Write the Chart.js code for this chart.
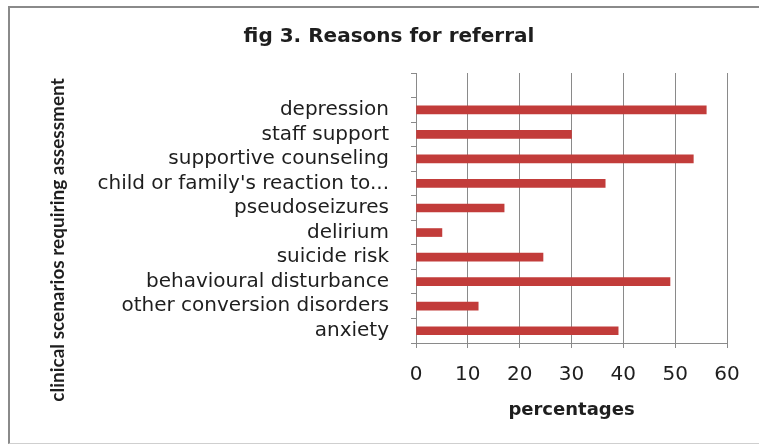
<!DOCTYPE html>
<html>
<head>
<meta charset="utf-8">
<script src="https://cdn.jsdelivr.net/npm/chart.js@4/dist/chart.umd.min.js"></script>
<style>
  html, body { margin: 0; padding: 0; background: #ffffff; overflow: hidden; }
  #wrap { position: relative; width: 759px; height: 446px; overflow: hidden; }
  #frame { position: absolute; left: 8px; top: 6px; width: 800px; height: 438px;
           border-left: 2px solid #8a8a8a; border-top: 2px solid #8a8a8a; border-bottom: 1px solid #cfcfcf;
           pointer-events: none; box-sizing: border-box; }
  canvas { display: block; }
</style>
</head>
<body>
<div id="wrap">
  <canvas id="c" width="759" height="446"></canvas>
  <div id="frame"></div>
</div>
<script>
const chartTitle = 'fig 3. Reasons for referral';
const xAxisTitle = 'percentages';
const yAxisTitle = 'clinical scenarios requiring assessment';
const categories = [
  'depression',
  'staff support',
  'supportive counseling',
  "child or family's reaction to...",
  'pseudoseizures',
  'delirium',
  'suicide risk',
  'behavioural disturbance',
  'other conversion disorders',
  'anxiety'
];
const percentages = [56, 30, 53.5, 36.5, 17, 5, 24.5, 49, 12, 39];
const xTickMin = 0, xTickMax = 60, xTickStep = 10;

const textColor = '#1e1e1e';
const lineColor = '#8a8a8a';

Chart.defaults.font.family = 'DejaVu Sans';

const yTitlePlugin = {
  id: 'yTitle',
  afterDraw(chart) {
    const ctx = chart.ctx;
    ctx.save();
    ctx.translate(58, 240);
    ctx.rotate(-Math.PI / 2);
    ctx.font = 'bold 19px Lato';
    ctx.fillStyle = textColor;
    ctx.textAlign = 'center';
    ctx.textBaseline = 'middle';
    ctx.fillText(yAxisTitle, 0, 0);
    ctx.restore();
  }
};

new Chart(document.getElementById('c'), {
  type: 'bar',
  data: {
    labels: [''].concat(categories),
    datasets: [{
      label: xAxisTitle,
      data: [null].concat(percentages),
      backgroundColor: '#C23C3A',
      borderWidth: 0,
      barThickness: 8
    }]
  },
  options: {
    indexAxis: 'y',
    responsive: false,
    animation: false,
    layout: { padding: { left: 51, right: 32, top: 0, bottom: 0 } },
    plugins: {
      legend: { display: false },
      tooltip: { enabled: false },
      title: {
        display: true,
        text: chartTitle,
        color: textColor,
        font: { family: 'DejaVu Sans', size: 20, weight: 'bold' },
        padding: { top: 25, bottom: 24 }
      }
    },
    scales: {
      x: {
        min: xTickMin,
        max: xTickMax,
        ticks: {
          stepSize: xTickStep,
          color: textColor,
          font: { size: 20 },
          padding: 15
        },
        grid: { color: lineColor, lineWidth: 1, tickLength: 5 },
        border: { color: lineColor, width: 1 },
        title: {
          display: true,
          text: xAxisTitle,
          color: textColor,
          font: { size: 18, weight: 'bold' },
          padding: { top: 0, bottom: 25 }
        },
        afterFit(scale) { scale.height = 103; }
      },
      y: {
        ticks: {
          color: textColor,
          font: { size: 20 },
          padding: 22,
          autoSkip: false
        },
        grid: { drawOnChartArea: false, color: lineColor, tickLength: 5 },
        border: { color: lineColor, width: 1 },
        afterFit(scale) { scale.width = 365; }
      }
    }
  },
  plugins: [yTitlePlugin]
});
</script>
</body>
</html>
